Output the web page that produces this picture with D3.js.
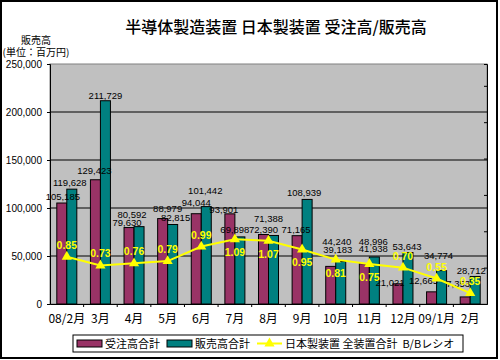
<!DOCTYPE html>
<html>
<head>
<meta charset="utf-8">
<script src="https://cdn.jsdelivr.net/npm/d3@7"></script>
<style>
    body { margin: 0; background: #fff; }
    text { font-family: "Liberation Sans", Arial, sans-serif; }
    .jp { font-family: "Noto Sans CJK JP", sans-serif; }
</style>
</head>
<body>
<div id="chart"></div>
<script>
const months = ["08/2月", "3月", "4月", "5月", "6月", "7月", "8月", "9月", "10月", "11月", "12月", "09/1月", "2月"];
const orders = [105185, 129423, 79630, 88979, 94044, 93901, 72390, 71165, 39183, 41938, 21021, 12665, 7353];
const sales = [119628, 211729, 80592, 82815, 101442, 69898, 71388, 108939, 44240, 48996, 53643, 34774, 28712];
const bbRatio = [0.85, 0.73, 0.76, 0.79, 0.99, 1.09, 1.07, 0.95, 0.81, 0.75, 0.70, 0.55, 0.35];
const yTicks = [0, 50000, 100000, 150000, 200000, 250000];
const seriesNames = ["受注高合計", "販売高合計", "日本製装置 全装置合計  B/Bレシオ"];
const title = "半導体製造装置 日本製装置 受注高/販売高";

const colors = { orders: "#993366", sales: "#008080", ratio: "#ffff00" };
const fmt = d3.format(",");

// hand nudges [dx, dy] of the value labels, as they were dragged in the original
const ordersLabelNudge = [[1, 0], [-1, -3], [-2, 1], [5, -4], [0, -5], [-6, 2], [0, 1], [-1, 0], [7, -10], [9, -9], [-8, 5], [-8, -5], [-7, -7]];
const salesLabelNudge = [[-2, 0], [0, 1], [-7, -6], [3, 0], [-1, -10], [-5, -1], [-5, -10], [-3, 0], [-4, -14], [-1, -9], [-1, 0], [-3, -9], [-4, 1]];

const svgWidth = 500, svgHeight = 360;
const plot = { left: 50, right: 487, top: 64, bottom: 304 };

let svg = d3.select("#chart")
    .append("svg")
    .attr("width", svgWidth)
    .attr("height", svgHeight);

// outer frame
svg.append("rect")
    .attr("x", 1).attr("y", 1)
    .attr("width", 496).attr("height", 357)
    .attr("fill", "#fff")
    .attr("stroke", "#000")
    .attr("stroke-width", 2);

// scales
let x = d3.scaleBand()
    .domain(months)
    .range([plot.left, plot.right]);
let xInner = d3.scaleBand()
    .domain(["orders", "sales"])
    .range([0, x.bandwidth()])
    .paddingOuter(0.68);
let y = d3.scaleLinear()
    .domain([0, 250000])
    .range([plot.bottom, plot.top]);
let y2 = d3.scaleLinear()
    .domain([0.2, 3.5])
    .range([plot.bottom, plot.top]);

// plot background
svg.append("rect")
    .attr("x", plot.left).attr("y", plot.top)
    .attr("width", plot.right - plot.left)
    .attr("height", plot.bottom - plot.top)
    .attr("fill", "#c0c0c0")
    .attr("stroke", "#808080");

// gridlines
svg.append("g")
    .selectAll("line")
    .data(yTicks.filter(d => d > 0 && d < 250000))
    .enter()
    .append("line")
    .attr("x1", plot.left).attr("x2", plot.right)
    .attr("y1", d => y(d)).attr("y2", d => y(d))
    .attr("stroke", "#000");

// left axis
let yAxis = svg.append("g")
    .attr("transform", "translate(" + plot.left + ",0)")
    .call(d3.axisLeft(y).tickValues(yTicks).tickFormat(d => fmt(d)).tickSize(3).tickPadding(5));
yAxis.select(".domain").attr("stroke", "#000");
yAxis.selectAll("text").attr("font-size", 10).attr("fill", "#000");

// right axis for the ratio, labels hidden
let y2Axis = svg.append("g")
    .attr("transform", "translate(" + plot.right + ",0)")
    .call(d3.axisLeft(y2).tickValues(d3.range(0.2, 3.51, 0.5)).tickSize(3).tickFormat(""));
y2Axis.select(".domain").attr("stroke", "#000");

// bottom axis
let xAxis = svg.append("g")
    .attr("transform", "translate(0," + plot.bottom + ")")
    .call(d3.axisBottom(x).tickSize(0).tickPadding(10));
xAxis.select(".domain").attr("stroke", "#000");
xAxis.selectAll("text")
    .attr("class", "jp")
    .attr("font-size", 12)
    .attr("fill", "#000");
svg.append("g")
    .selectAll("line")
    .data(months.slice(1))
    .enter()
    .append("line")
    .attr("x1", d => x(d)).attr("x2", d => x(d))
    .attr("y1", plot.bottom).attr("y2", plot.bottom + 3)
    .attr("stroke", "#000");

// bars
const bars = [
    { key: "orders", values: orders, nudge: ordersLabelNudge },
    { key: "sales", values: sales, nudge: salesLabelNudge }
];
bars.forEach(series => {
    svg.append("g")
        .selectAll("rect")
        .data(series.values)
        .enter()
        .append("rect")
        .attr("x", (d, i) => x(months[i]) + xInner(series.key))
        .attr("y", d => y(d))
        .attr("width", xInner.bandwidth())
        .attr("height", d => y(0) - y(d))
        .attr("fill", colors[series.key])
        .attr("stroke", "#000")
        .attr("stroke-width", 1);
});

// bar value labels
bars.forEach(series => {
    svg.append("g")
        .selectAll("text")
        .data(series.values)
        .enter()
        .append("text")
        .attr("x", (d, i) => x(months[i]) + xInner(series.key) + xInner.bandwidth() / 2 + series.nudge[i][0])
        .attr("y", (d, i) => y(d) - 3 + series.nudge[i][1])
        .attr("text-anchor", "middle")
        .attr("font-size", 9.5)
        .attr("fill", "#000")
        .text(d => fmt(d));
});

// b/b ratio line
let cx = (d, i) => x(months[i]) + x.bandwidth() / 2;
let line = d3.line()
    .x(cx)
    .y(d => y2(d));
svg.append("path")
    .datum(bbRatio)
    .attr("d", line)
    .attr("fill", "none")
    .attr("stroke", colors.ratio)
    .attr("stroke-width", 2);

let triangle = d3.symbol().type(d3.symbolTriangle).size(45);
svg.append("g")
    .selectAll("path")
    .data(bbRatio)
    .enter()
    .append("path")
    .attr("d", triangle)
    .attr("transform", (d, i) => "translate(" + cx(d, i) + "," + y2(d) + ")")
    .attr("fill", colors.ratio);

// ratio labels: below the line around the peak, above elsewhere
const labelBelow = ["7月", "8月", "9月", "10月", "11月"];
svg.append("g")
    .selectAll("text")
    .data(bbRatio)
    .enter()
    .append("text")
    .attr("x", (d, i) => cx(d, i))
    .attr("y", (d, i) => labelBelow.includes(months[i]) ? y2(d) + 17 : y2(d) - 8)
    .attr("text-anchor", "middle")
    .attr("font-size", 10.5)
    .attr("font-weight", "bold")
    .attr("fill", colors.ratio)
    .text(d => d.toFixed(2));

// title and unit
svg.append("text")
    .attr("class", "jp")
    .attr("x", 276).attr("y", 33)
    .attr("text-anchor", "middle")
    .attr("font-size", 16)
    .attr("font-weight", 500)
    .attr("fill", "#000")
    .text(title);
svg.append("text")
    .attr("class", "jp")
    .attr("x", 36).attr("y", 44)
    .attr("text-anchor", "middle")
    .attr("font-size", 10)
    .text("販売高");
svg.append("text")
    .attr("class", "jp")
    .attr("x", 36).attr("y", 56)
    .attr("text-anchor", "middle")
    .attr("font-size", 10)
    .text("(単位：百万円)");

// legend
let legend = svg.append("g");
legend.append("rect")
    .attr("x", 73).attr("y", 335)
    .attr("width", 390).attr("height", 17)
    .attr("fill", "#fff")
    .attr("stroke", "#000");
const legendX = [77, 167, 257];
[colors.orders, colors.sales].forEach((c, i) => {
    legend.append("rect")
        .attr("x", legendX[i]).attr("y", 340)
        .attr("width", 25).attr("height", 7)
        .attr("fill", c)
        .attr("stroke", "#000");
});
legend.append("line")
    .attr("x1", legendX[2]).attr("x2", legendX[2] + 25)
    .attr("y1", 343.5).attr("y2", 343.5)
    .attr("stroke", colors.ratio)
    .attr("stroke-width", 2);
legend.append("path")
    .attr("d", triangle)
    .attr("transform", "translate(" + (legendX[2] + 12.5) + ",343.5)")
    .attr("fill", colors.ratio);
seriesNames.forEach((name, i) => {
    legend.append("text")
        .attr("class", "jp")
        .attr("x", legendX[i] + 28).attr("y", 347.5)
        .attr("font-size", 11)
        .attr("fill", "#000")
        .style("white-space", "pre")
        .text(name);
});
</script>
</body>
</html>
